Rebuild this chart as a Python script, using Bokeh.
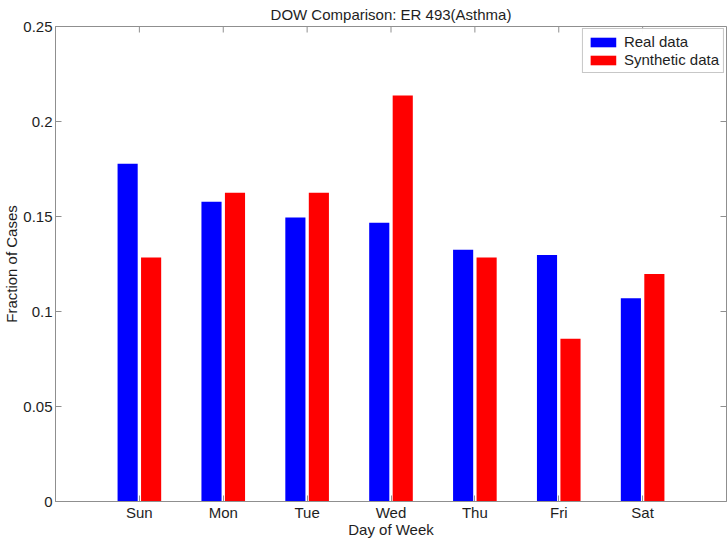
from bokeh.plotting import figure
from bokeh.models import (ColumnDataSource, FixedTicker, Range1d,
                          CustomJSTickFormatter)
from bokeh.transform import dodge
from bokeh.embed import file_html
from bokeh.resources import INLINE

# ---- data ----
days = ["Sun", "Mon", "Tue", "Wed", "Thu", "Fri", "Sat"]
day_pos = [1, 2, 3, 4, 5, 6, 7]
real = [0.1777, 0.1577, 0.1495, 0.1467, 0.1325, 0.1298, 0.1070]
synthetic = [0.1284, 0.1625, 0.1625, 0.2137, 0.1284, 0.0856, 0.1198]
y_ticks = [0, 0.05, 0.1, 0.15, 0.2, 0.25]
x_min, x_max = 0, 8
y_min, y_max = 0, 0.25

FONT = "Liberation Sans"
FS = "15px"
GRAY = "#8f8f8f"
TXT = "#1e1e1e"

src = ColumnDataSource(dict(x=day_pos, real=real, synthetic=synthetic))

p = figure(width=727, height=540, output_backend="svg", toolbar_location=None,
           x_range=Range1d(x_min, x_max), y_range=Range1d(y_min, y_max),
           min_border_left=0, min_border_right=1, min_border_top=0,
           min_border_bottom=0)

p.title.text = "DOW Comparison: ER 493(Asthma)"
p.title.align = "center"
p.title.text_font = FONT
p.title.text_font_size = FS
p.title.text_font_style = "normal"
p.title.text_color = TXT
p.title.standoff = 7
p.title.offset = 0

p.vbar(x=dodge("x", -0.14, range=p.x_range), top="real", width=0.24, source=src,
       fill_color="#0000ff", line_color=None, legend_label="Real data")
p.vbar(x=dodge("x", 0.14, range=p.x_range), top="synthetic", width=0.24, source=src,
       fill_color="#ff0000", line_color=None, legend_label="Synthetic data")

# mirrored tick marks along the top and right edges of the box
top_src = ColumnDataSource(dict(x=day_pos, y=[y_max] * len(day_pos)))
right_src = ColumnDataSource(dict(x=[x_max] * len(y_ticks), y=y_ticks))
p.rect(x="x", y="y", width=1, height=12, width_units="screen",
       height_units="screen", source=top_src, fill_color=GRAY, line_color=None)
p.rect(x="x", y="y", width=12, height=1, width_units="screen",
       height_units="screen", source=right_src, fill_color=GRAY, line_color=None)

p.xgrid.visible = False
p.ygrid.visible = False
p.outline_line_color = GRAY

# bottom axis
xa = p.xaxis[0]
xa.ticker = FixedTicker(ticks=day_pos)
xa.major_label_overrides = {pos: d for pos, d in zip(day_pos, days)}
xa.axis_label = "Day of Week"
xa.axis_label_standoff = -3
xa.major_label_standoff = 2

# left axis
ya = p.yaxis[0]
ya.ticker = FixedTicker(ticks=y_ticks)
ya.formatter = CustomJSTickFormatter(code="return String(Number(tick.toFixed(2)));")
ya.axis_label = "Fraction of Cases"
ya.axis_label_standoff = 0
ya.major_label_standoff = 3

for ax in (xa, ya):
    ax.axis_line_color = GRAY
    ax.major_tick_line_color = GRAY
    ax.major_tick_in = 6
    ax.major_tick_out = 0
    ax.minor_tick_line_color = None
    ax.major_label_text_font = FONT
    ax.major_label_text_font_size = FS
    ax.major_label_text_color = TXT
    ax.axis_label_text_font = FONT
    ax.axis_label_text_font_size = FS
    ax.axis_label_text_font_style = "normal"
    ax.axis_label_text_color = TXT

lg = p.legend[0]
lg.location = "top_right"
lg.margin = 2
lg.padding = 4
lg.spacing = 1
lg.glyph_width = 32
lg.glyph_height = 12
lg.label_height = 12
lg.label_standoff = 5
lg.label_text_font = FONT
lg.label_text_font_size = FS
lg.label_text_color = TXT
lg.border_line_color = GRAY
lg.background_fill_color = "white"

open("out.html", "w").write(file_html(p, INLINE))
